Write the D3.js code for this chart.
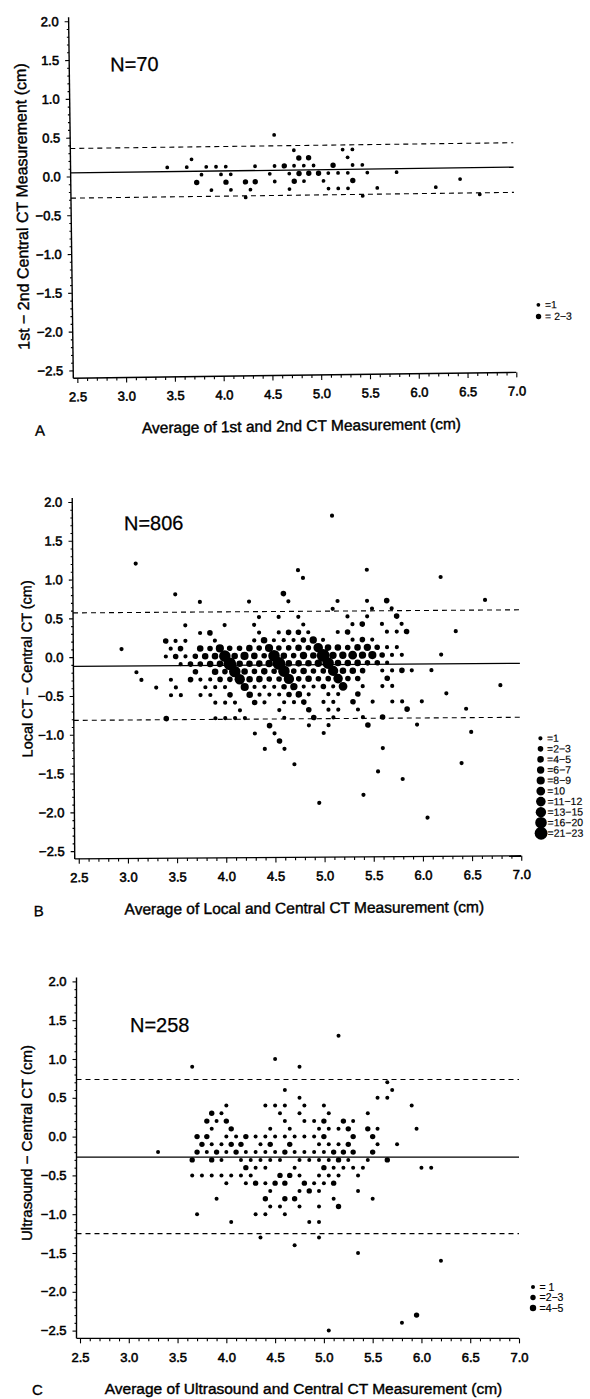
<!DOCTYPE html>
<html><head><meta charset="utf-8">
<script src="https://cdn.jsdelivr.net/npm/d3@7"></script>
<style>
body{margin:0;background:#fff}
svg text{font-family:"Liberation Sans",Arial,Helvetica,sans-serif;fill:#000}
</style>
</head><body><svg id="c" width="590" height="1399"></svg>
<script>
// ---------------- data ----------------
const xTicks = [2.5,3.0,3.5,4.0,4.5,5.0,5.5,6.0,6.5,7.0];
const yTicks = [2.0,1.5,1.0,0.5,0.0,-0.5,-1.0,-1.5,-2.0,-2.5];
const panelLetters = ["A","B","C"];
const nLabels = ["N=70","N=806","N=258"];
const xTitles = ["Average of 1st and 2nd CT Measurement (cm)",
                 "Average of Local and Central CT Measurement (cm)",
                 "Average of Ultrasound and Central CT Measurement (cm)"];
const yTitles = ["1st \u2212 2nd Central CT Measurement (cm)",
                 "Local CT \u2212 Central CT (cm)",
                 "Ultrasound  \u2212  Central CT (cm)"];
const meanDiff = [0.045, -0.12, -0.265];
const upperLoA = [0.36, 0.57, 0.735];
const lowerLoA = [-0.28, -0.815, -1.25];
const legendLabelsA = ["=1","= 2\u22123"];
const legendCountsA = [1,2];
const legendLabelsB = ["=1","=2\u22123","=4\u22125","=6\u22127","=8\u22129","=10","=11\u221212","=13\u221215","=16\u221220","=21\u221223"];
const legendCountsB = [1,2,4,6,8,10,11,13,16,21];
const legendLabelsC = ["= 1","=2\u22123","=4\u22125"];
const legendCountsC = [1,2,4];

// [average, difference, number of patients]
const pointsA = [
 [4.55,0.5,1],
 [4.75,0.3,1],[5.25,0.3,1],[5.35,0.3,1],
 [3.7,0.2,1],[4.8,0.2,2],[4.9,0.2,2],[5.3,0.2,1],
 [3.45,0.1,1],[3.65,0.1,1],[3.85,0.1,1],[3.95,0.1,1],[4.05,0.1,1],[4.35,0.1,1],[4.55,0.1,1],[4.65,0.1,3],[4.75,0.1,1],[4.85,0.1,1],[4.95,0.1,1],[5.15,0.1,2],[5.35,0.1,1],[5.45,0.1,1],
 [3.8,0,1],[4.0,0,1],[4.1,0,1],[4.5,0,1],[4.7,0,1],[4.8,0,2],[4.9,0,2],[5.0,0,2],[5.1,0,1],[5.2,0,1],[5.3,0,1],[5.5,0,1],[5.8,0,1],
 [3.75,-0.1,2],[4.05,-0.1,2],[4.25,-0.1,2],[4.35,-0.1,2],[4.55,-0.1,1],[4.75,-0.1,2],[4.85,-0.1,1],[5.05,-0.1,1],[5.35,-0.1,2],[6.45,-0.1,1],
 [3.9,-0.2,1],[4.1,-0.2,1],[4.3,-0.2,1],[4.7,-0.2,1],[5.1,-0.2,1],[5.2,-0.2,1],[5.3,-0.2,1],[5.6,-0.2,1],[6.2,-0.2,1],
 [4.25,-0.3,1],[5.45,-0.3,1],[6.65,-0.3,1]
];

const pointsB = [
 [5.1,1.8,1],[3.1,1.2,1],[4.75,1.1,1],[5.45,1.1,1],[4.8,1.0,1],[6.2,1.0,1],
 [3.5,0.8,1],[4.6,0.8,2],
 [3.75,0.7,1],[4.25,0.7,1],[4.65,0.7,1],[5.15,0.7,1],[5.45,0.7,1],[5.65,0.7,2],[6.65,0.7,1],
 [5.1,0.6,1],[5.5,0.6,1],[5.7,0.6,1],
 [4.35,0.5,1],[4.55,0.5,1],[4.75,0.5,1],[5.25,0.5,1],[5.45,0.5,1],[5.75,0.5,2],
 [3.6,0.4,1],[4.0,0.4,1],[4.3,0.4,1],[4.8,0.4,1],[5.3,0.4,1],[5.4,0.4,2],[5.6,0.4,1],[5.8,0.4,1],
 [3.75,0.3,1],[3.85,0.3,2],[4.35,0.3,1],[4.55,0.3,1],[4.65,0.3,2],[4.75,0.3,2],[4.85,0.3,1],[5.15,0.3,1],[5.25,0.3,2],[5.65,0.3,1],[5.75,0.3,1],[5.85,0.3,2],[6.35,0.3,1],
 [3.4,0.2,2],[3.5,0.2,1],[3.6,0.2,1],[3.9,0.2,1],[4.3,0.2,1],[4.4,0.2,4],[4.5,0.2,1],[4.6,0.2,1],[4.7,0.2,1],[4.8,0.2,2],[4.9,0.2,6],[5.0,0.2,1],[5.3,0.2,1],[5.4,0.2,2],[5.5,0.2,1],
 [2.95,0.1,1],[3.45,0.1,1],[3.55,0.1,2],[3.75,0.1,4],[3.85,0.1,2],[3.95,0.1,8],[4.05,0.1,2],[4.15,0.1,2],[4.25,0.1,4],[4.35,0.1,2],[4.45,0.1,8],[4.55,0.1,2],[4.65,0.1,2],[4.75,0.1,4],[4.85,0.1,2],[4.95,0.1,11],[5.05,0.1,4],[5.15,0.1,4],[5.25,0.1,2],[5.35,0.1,4],[5.45,0.1,6],[5.55,0.1,2],[5.65,0.1,1],[5.75,0.1,1],
 [3.4,0,1],[3.5,0,2],[3.6,0,1],[3.7,0,2],[3.8,0,4],[3.9,0,4],[4.0,0,16],[4.1,0,4],[4.2,0,8],[4.3,0,4],[4.4,0,2],[4.5,0,16],[4.6,0,4],[4.7,0,2],[4.8,0,6],[4.9,0,4],[5.0,0,21],[5.1,0,6],[5.2,0,6],[5.3,0,10],[5.4,0,6],[5.5,0,8],[5.6,0,2],[5.7,0,1],[5.8,0,1],[6.2,0,1],
 [3.55,-0.1,1],[3.65,-0.1,2],[3.75,-0.1,2],[3.85,-0.1,4],[3.95,-0.1,4],[4.05,-0.1,21],[4.15,-0.1,4],[4.25,-0.1,4],[4.35,-0.1,4],[4.45,-0.1,6],[4.55,-0.1,21],[4.65,-0.1,4],[4.75,-0.1,4],[4.85,-0.1,4],[4.95,-0.1,6],[5.05,-0.1,16],[5.15,-0.1,4],[5.25,-0.1,4],[5.35,-0.1,4],[5.45,-0.1,2],[5.55,-0.1,2],[5.65,-0.1,1],
 [3.1,-0.2,1],[3.7,-0.2,2],[3.9,-0.2,4],[4.0,-0.2,2],[4.1,-0.2,16],[4.2,-0.2,4],[4.3,-0.2,2],[4.4,-0.2,4],[4.5,-0.2,2],[4.6,-0.2,16],[4.7,-0.2,2],[4.8,-0.2,4],[4.9,-0.2,2],[5.0,-0.2,2],[5.1,-0.2,13],[5.2,-0.2,4],[5.3,-0.2,4],[5.4,-0.2,2],[5.6,-0.2,1],[5.7,-0.2,1],[5.8,-0.2,2],[5.9,-0.2,1],[6.1,-0.2,1],
 [3.15,-0.3,1],[3.45,-0.3,1],[3.65,-0.3,2],[3.75,-0.3,1],[3.85,-0.3,1],[3.95,-0.3,2],[4.05,-0.3,2],[4.15,-0.3,13],[4.25,-0.3,4],[4.35,-0.3,4],[4.45,-0.3,2],[4.55,-0.3,2],[4.65,-0.3,13],[4.75,-0.3,2],[4.85,-0.3,4],[4.95,-0.3,2],[5.05,-0.3,2],[5.15,-0.3,11],[5.25,-0.3,2],[5.35,-0.3,2],[5.65,-0.3,2],
 [3.3,-0.4,1],[3.5,-0.4,1],[3.8,-0.4,1],[3.9,-0.4,1],[4.0,-0.4,1],[4.2,-0.4,8],[4.3,-0.4,1],[4.4,-0.4,1],[4.5,-0.4,1],[4.6,-0.4,2],[4.7,-0.4,6],[4.8,-0.4,1],[4.9,-0.4,1],[5.0,-0.4,2],[5.1,-0.4,1],[5.2,-0.4,10],[5.4,-0.4,1],[5.6,-0.4,1],[5.7,-0.4,1],[6.8,-0.4,1],
 [3.45,-0.5,1],[3.55,-0.5,1],[3.75,-0.5,1],[3.85,-0.5,1],[4.05,-0.5,2],[4.25,-0.5,4],[4.35,-0.5,1],[4.45,-0.5,1],[4.55,-0.5,1],[4.65,-0.5,2],[4.75,-0.5,4],[4.85,-0.5,1],[5.05,-0.5,1],[5.15,-0.5,1],[5.35,-0.5,2],[6.25,-0.5,1],
 [3.9,-0.6,1],[4.0,-0.6,1],[4.1,-0.6,1],[4.3,-0.6,2],[4.4,-0.6,1],[4.6,-0.6,1],[4.7,-0.6,1],[4.8,-0.6,2],[5.0,-0.6,1],[5.1,-0.6,1],[5.3,-0.6,2],[5.5,-0.6,1],[5.7,-0.6,1],[5.8,-0.6,1],[6.0,-0.6,1],
 [4.15,-0.7,1],[4.55,-0.7,1],[4.85,-0.7,2],[5.05,-0.7,1],[5.15,-0.7,1],[5.35,-0.7,1],[5.85,-0.7,2],[6.45,-0.7,1],
 [3.4,-0.8,2],[3.9,-0.8,1],[4.0,-0.8,1],[4.1,-0.8,1],[4.2,-0.8,1],[4.6,-0.8,1],[4.9,-0.8,2],[5.1,-0.8,1],[5.4,-0.8,1],[5.6,-0.8,2],
 [4.45,-0.9,2],[4.85,-0.9,1],[5.05,-0.9,1],[5.45,-0.9,2],[5.95,-0.9,1],
 [4.3,-1.0,1],[4.5,-1.0,1],[5.0,-1.0,1],[6.5,-1.0,1],
 [4.55,-1.1,2],
 [4.4,-1.2,1],[4.6,-1.2,1],[5.6,-1.2,1],
 [4.7,-1.4,1],[6.4,-1.4,1],
 [5.55,-1.5,1],[5.8,-1.6,1],[5.4,-1.8,1],[4.95,-1.9,1],[6.05,-2.1,1]
];

const pointsC = [
 [5.15,1.3,1],[4.5,1.0,1],[3.65,0.9,1],[4.75,0.9,1],[5.65,0.7,1],
 [4.6,0.6,1],[5.7,0.6,1],
 [4.75,0.5,1],[5.55,0.5,1],[5.65,0.5,1],
 [4.0,0.4,1],[4.4,0.4,1],[4.5,0.4,1],[4.6,0.4,1],[4.8,0.4,1],[5.0,0.4,1],[5.9,0.4,1],
 [3.85,0.3,2],[3.95,0.3,1],[4.55,0.3,1],[4.75,0.3,1],[5.05,0.3,1],[5.45,0.3,1],
 [3.8,0.2,2],[3.9,0.2,1],[4.0,0.2,2],[4.6,0.2,1],[4.8,0.2,1],[4.9,0.2,1],[5.0,0.2,2],[5.2,0.2,2],[5.3,0.2,1],
 [3.85,0.1,1],[4.05,0.1,2],[4.45,0.1,1],[4.65,0.1,1],[4.95,0.1,1],[5.05,0.1,1],[5.15,0.1,1],[5.25,0.1,2],[5.45,0.1,2],[5.55,0.1,1],[5.95,0.1,1],
 [3.7,0,2],[3.8,0,2],[4.0,0,1],[4.1,0,1],[4.2,0,2],[4.3,0,1],[4.4,0,1],[4.5,0,1],[4.6,0,1],[4.7,0,1],[4.8,0,1],[4.9,0,1],[5.0,0,2],[5.3,0,2],[5.5,0,2],
 [3.75,-0.1,2],[3.85,-0.1,1],[3.95,-0.1,1],[4.05,-0.1,2],[4.15,-0.1,2],[4.35,-0.1,1],[4.45,-0.1,2],[4.65,-0.1,2],[4.95,-0.1,1],[5.05,-0.1,1],[5.15,-0.1,1],[5.25,-0.1,2],[5.55,-0.1,1],[5.75,-0.1,1],
 [3.3,-0.2,1],[3.7,-0.2,2],[3.8,-0.2,1],[3.9,-0.2,2],[4.0,-0.2,1],[4.1,-0.2,2],[4.2,-0.2,1],[4.3,-0.2,1],[4.4,-0.2,1],[4.5,-0.2,1],[4.6,-0.2,2],[4.7,-0.2,1],[4.8,-0.2,1],[4.9,-0.2,1],[5.0,-0.2,1],[5.1,-0.2,2],[5.2,-0.2,2],[5.3,-0.2,2],[5.5,-0.2,2],
 [3.65,-0.3,2],[3.85,-0.3,2],[3.95,-0.3,1],[4.15,-0.3,1],[4.25,-0.3,1],[4.35,-0.3,1],[4.45,-0.3,1],[4.55,-0.3,1],[4.75,-0.3,1],[4.85,-0.3,1],[4.95,-0.3,1],[5.05,-0.3,1],[5.15,-0.3,2],[5.25,-0.3,1],[5.45,-0.3,1],[5.65,-0.3,2],
 [4.2,-0.4,2],[4.3,-0.4,1],[4.4,-0.4,1],[4.7,-0.4,1],[5.0,-0.4,2],[5.1,-0.4,1],[5.2,-0.4,1],[5.3,-0.4,1],[5.4,-0.4,1],[6.0,-0.4,1],[6.1,-0.4,1],
 [3.65,-0.5,1],[3.75,-0.5,1],[3.85,-0.5,1],[3.95,-0.5,1],[4.05,-0.5,1],[4.15,-0.5,1],[4.25,-0.5,1],[4.55,-0.5,2],[4.65,-0.5,2],[4.75,-0.5,1],[4.95,-0.5,1],[5.05,-0.5,1],[5.15,-0.5,1],[5.35,-0.5,1],
 [4.0,-0.6,1],[4.2,-0.6,1],[4.3,-0.6,2],[4.4,-0.6,1],[4.5,-0.6,2],[4.6,-0.6,2],[4.8,-0.6,2],[4.9,-0.6,1],[5.0,-0.6,1],[5.1,-0.6,2],
 [4.45,-0.7,1],[4.75,-0.7,1],[4.85,-0.7,2],[4.95,-0.7,1],[5.35,-0.7,1],
 [3.9,-0.8,1],[4.4,-0.8,2],[4.6,-0.8,2],[4.7,-0.8,2],[5.1,-0.8,1],[5.5,-0.8,1],
 [4.45,-0.9,1],[4.55,-0.9,1],[4.75,-0.9,1],[4.95,-0.9,1],[5.15,-0.9,2],
 [3.7,-1.0,1],[4.3,-1.0,1],[4.4,-1.0,1],[4.6,-1.0,1],
 [4.05,-1.1,1],[4.85,-1.1,1],[4.95,-1.1,1],
 [4.35,-1.3,1],[4.95,-1.3,1],[4.7,-1.4,1],[5.35,-1.5,1],[6.2,-1.6,1],
 [5.95,-2.3,2],[5.8,-2.4,1],[5.05,-2.5,1]
];

// ---------------- layout ----------------
const panels = [
 {pts:pointsA, xr:[75,514], y0:173.5, ppu:77.6, axisX:71, rot:-0.75, cx:295, cy:200,
  rDom:[2], rRange:[1.9,2.7], lgLabels:legendLabelsA, lgCounts:legendCountsA,
  lgX:537, lgY:308, lgStep:11.7, nX:112, nY:69, yTitleX:22, yTitleY:203, yTitleSize:16},
 {pts:pointsB, xr:[77.5,520], y0:655.6, ppu:77.6, axisX:73.5, rot:-0.4, cx:295, cy:680,
  rDom:[2,4,6,8,10,11,13,16,21], rRange:[2.1,2.8,3.3,3.7,4.1,4.4,4.8,5.2,5.8,6.4],
  lgLabels:legendLabelsB, lgCounts:legendCountsB, lgX:540, lgY:740, lgStep:10.55,
  nX:125, nY:529, yTitleX:27, yTitleY:667, yTitleSize:14.5},
 {pts:pointsC, xr:[80,519], y0:1136.6, ppu:77.6, axisX:76.5, rot:0, cx:295, cy:1160,
  rDom:[2,4], rRange:[2.0,2.7,3.2], lgLabels:legendLabelsC, lgCounts:legendCountsC,
  lgX:533, lgY:1287, lgStep:10.5, nX:130, nY:1032, yTitleX:27, yTitleY:1143, yTitleSize:15}
];

const svg = d3.select("#c");
svg.append("rect").attr("width",590).attr("height",1399).attr("fill","#fff");

panels.forEach((p,i) => {
  const g = svg.append("g").attr("transform",`rotate(${p.rot},${p.cx},${p.cy})`);
  const x = d3.scaleLinear().domain([2.5,7.0]).range(p.xr);
  const y = d3.scaleLinear().domain([0,1]).range([p.y0, p.y0 - p.ppu]);
  const r = d3.scaleThreshold().domain(p.rDom).range(p.rRange);
  const axisY = y(-2.6);
  const topY = y(2.0) - 4;

  g.append("line").attr("x1",p.axisX).attr("x2",p.axisX).attr("y1",topY).attr("y2",axisY)
    .attr("stroke","#000").attr("stroke-width",1.4);
  g.append("line").attr("x1",p.axisX).attr("x2",x(7.0)).attr("y1",axisY).attr("y2",axisY)
    .attr("stroke","#000").attr("stroke-width",1.4);

  const xMinor = d3.range(25,71).map(v=>v/10).filter(v=>!xTicks.some(t=>Math.abs(t-v)<1e-6));
  const xa = g.append("g").attr("transform",`translate(0,${axisY})`)
    .call(d3.axisBottom(x).tickValues(xMinor).tickSize(3).tickFormat(""));
  const xb = g.append("g").attr("transform",`translate(0,${axisY})`)
    .call(d3.axisBottom(x).tickValues(xTicks).tickSize(5).tickPadding(9).tickFormat(d3.format(".1f")));
  const yMinor = d3.range(-25,21).map(v=>v/10).filter(v=>!yTicks.some(t=>Math.abs(t-v)<1e-6));
  const ya = g.append("g").attr("transform",`translate(${p.axisX},0)`)
    .call(d3.axisLeft(y).tickValues(yMinor).tickSize(2).tickFormat(""));
  const yb = g.append("g").attr("transform",`translate(${p.axisX},0)`)
    .call(d3.axisLeft(y).tickValues(yTicks).tickSize(4).tickPadding(6).tickFormat(d3.format(".1f")));
  [xa,xb,ya,yb].forEach(a=>{
    a.select(".domain").remove();
    a.selectAll(".tick line").attr("stroke","#000").attr("stroke-width",1.1);
    a.selectAll("text").attr("font-size",13).attr("font-family",'"Liberation Sans",Arial,sans-serif')
      .attr("stroke","#000").attr("stroke-width",0.55).attr("fill","#000");
  });

  const lx1 = p.axisX, lx2 = x(7.0);
  g.append("line").attr("x1",lx1).attr("x2",lx2).attr("y1",y(meanDiff[i])).attr("y2",y(meanDiff[i]))
    .attr("stroke","#000").attr("stroke-width",1.3);
  [upperLoA[i], lowerLoA[i]].forEach(v=>{
    g.append("line").attr("x1",lx1).attr("x2",lx2).attr("y1",y(v)).attr("y2",y(v))
      .attr("stroke","#000").attr("stroke-width",1.1).attr("stroke-dasharray","5,4");
  });

  g.append("g").selectAll("circle").data(p.pts).join("circle")
    .attr("cx",d=>x(d[0])).attr("cy",d=>y(d[1])).attr("r",d=>r(d[2])).attr("fill","#000");

  g.append("text").attr("x",p.nX).attr("y",p.nY).attr("font-size",20)
    .attr("stroke","#000").attr("stroke-width",0.25).text(nLabels[i]);

  g.append("text").attr("x",(p.xr[0]+p.xr[1])/2+4).attr("y",axisY+56).attr("text-anchor","middle")
    .attr("font-size",15.5).attr("stroke","#000").attr("stroke-width",0.4).text(xTitles[i]);
  g.append("text").attr("x",32).attr("y",axisY+57).attr("font-size",15)
    .attr("stroke","#000").attr("stroke-width",0.3).text(panelLetters[i]);

  g.append("text").attr("transform",`translate(${p.yTitleX + p.yTitleSize*0.35},${p.yTitleY}) rotate(-90)`)
    .attr("text-anchor","middle").attr("font-size",p.yTitleSize)
    .attr("stroke","#000").attr("stroke-width",0.4).text(yTitles[i]);

  const lg = g.append("g");
  p.lgCounts.forEach((c,k)=>{
    const ly = p.lgY + k*p.lgStep;
    lg.append("circle").attr("cx",p.lgX).attr("cy",ly).attr("r",r(c)).attr("fill","#000");
    lg.append("text").attr("x",p.lgX+6.5).attr("y",ly).attr("dy","0.35em").attr("font-size",10.5)
      .attr("stroke","#000").attr("stroke-width",0.15).text(p.lgLabels[k]);
  });
});
</script>
</body></html>
